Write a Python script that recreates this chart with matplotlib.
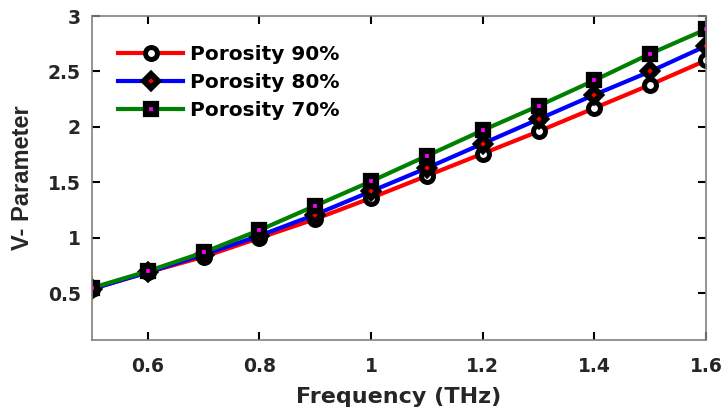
import numpy as np
import matplotlib.pyplot as plt

plt.rcParams['font.family'] = 'DejaVu Sans'
plt.rcParams['font.weight'] = 'bold'

# Frequency sweep and V-parameter for each porosity
freq = [0.5, 0.6, 0.7, 0.8, 0.9, 1.0, 1.1, 1.2, 1.3, 1.4, 1.5, 1.6]
v_90 = [0.54, 0.69, 0.83, 1.00, 1.17, 1.36, 1.56, 1.76, 1.96, 2.17, 2.38, 2.60]
v_80 = [0.54, 0.69, 0.85, 1.02, 1.21, 1.42, 1.63, 1.85, 2.07, 2.29, 2.50, 2.73]
v_70 = [0.55, 0.70, 0.87, 1.07, 1.29, 1.51, 1.74, 1.97, 2.19, 2.42, 2.66, 2.88]

fig = plt.figure(figsize=(7.23, 4.11), dpi=100)
ax = fig.add_axes([92/723, 71/411, 614/723, 324/411])

ax.plot(freq, v_90, color='red', lw=3, marker='o', ms=8.6, mfc='white',
        mec='black', mew=3.6, label='Porosity 90%')
ax.plot(freq, v_80, color='blue', lw=3, marker='D', ms=7.5, mfc='red',
        mec='black', mew=4.3, label='Porosity 80%')
ax.plot(freq, v_70, color='green', lw=3, marker='s', ms=7, mfc='magenta',
        mec='black', mew=4.5, label='Porosity 70%')

ax.set_xlim(0.5, 1.6)
ax.set_ylim(0.08, 3)
ax.set_xticks([0.6, 0.8, 1.0, 1.2, 1.4, 1.6])
ax.set_xticklabels(['0.6', '0.8', '1', '1.2', '1.4', '1.6'])
ax.set_yticks([0.5, 1, 1.5, 2, 2.5, 3])
ax.set_yticklabels(['0.5', '1', '1.5', '2', '2.5', '3'])
ax.tick_params(direction='in', top=True, right=True, length=6, width=1.5,
               labelsize=13.5, color='black', labelcolor='#262626')
ax.tick_params(axis='x', pad=12)
ax.tick_params(axis='y', pad=8)
for s in ax.spines.values():
    s.set_color('#808080')
    s.set_linewidth(1.2)

ax.set_xlabel('Frequency (THz)', fontsize=16, fontweight='bold',
              color='#262626', labelpad=8)
ax.set_ylabel('V- Parameter', fontsize=17, fontweight='bold',
              color='#262626', family='Liberation Sans', labelpad=10)

leg = ax.legend(loc='upper left', frameon=False, fontsize=14.5,
                handlelength=3.2, labelspacing=0.45, handletextpad=0.35,
                borderaxespad=0.0, bbox_to_anchor=(0.03, 0.935))

fig.savefig('out.png', dpi=100)
